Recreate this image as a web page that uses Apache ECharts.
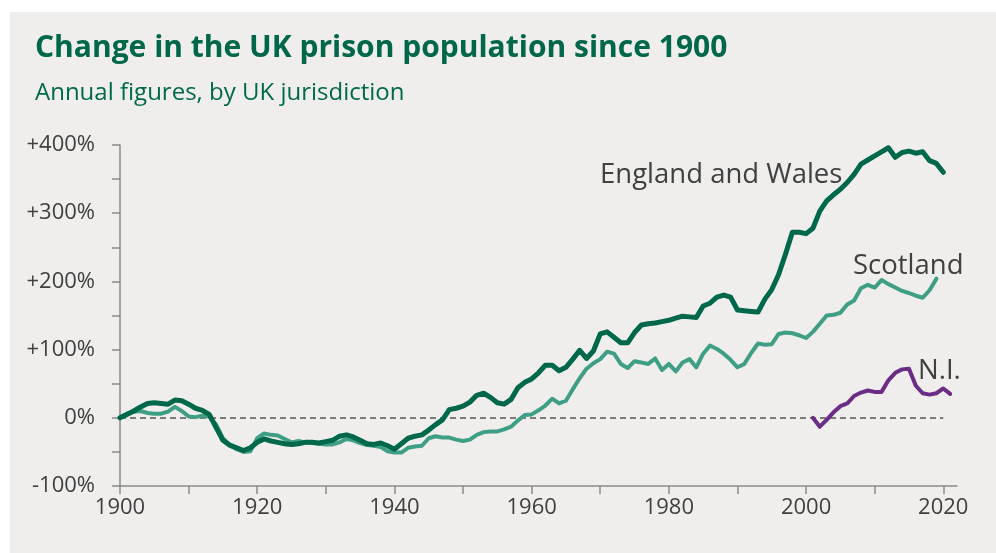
<!DOCTYPE html>
<html>
<head>
<meta charset="utf-8">
<script src="https://cdn.jsdelivr.net/npm/echarts@6/dist/echarts.min.js"></script>
<style>
  html, body { margin: 0; padding: 0; background: #ffffff; }
  #chart { width: 996px; height: 553px; }
</style>
</head>
<body>
<div id="chart"></div>
<script>
// x axis runs a little past the last data year
const firstYear = 1900;
const lastYear = 2022;

// % change since 1900, one value per year
const englandWalesStart = 1900;
const englandWales = [
  0, 5, 10, 16, 21, 22, 21, 20, 26, 25,
  20, 14, 11, 5, -14, -33, -40, -44, -48, -44,
  -36, -31, -34, -36, -38, -39, -38, -36, -36, -37,
  -35, -33, -27, -25, -28, -33, -38, -39, -37, -41,
  -46, -38, -30, -27, -25, -18, -10, -3, 12, 14,
  17, 23, 33, 36, 30, 22, 20, 27, 44, 52,
  57, 66, 77, 77, 69, 74, 86, 99, 87, 98,
  123, 126, 118, 110, 110, 125, 136, 138, 139, 141,
  143, 146, 149, 148, 147, 164, 168, 177, 180, 177,
  158, 157, 156, 155, 174, 188, 210, 240, 272, 272,
  270, 278, 303, 318, 327, 335, 345, 357, 372, 378,
  384, 390, 396, 382, 389, 391, 388, 390, 377, 373,
  360
];

const scotlandStart = 1900;
const scotland = [
  0, 6, 9, 10, 7, 6, 6, 9, 16, 10,
  2, 1, 3, 2, -10, -30, -40, -46, -50, -49,
  -30, -23, -25, -26, -31, -36, -34, -36, -37, -38,
  -39, -39, -36, -31, -33, -37, -40, -41, -43, -49,
  -51, -51, -44, -42, -41, -30, -27, -29, -29, -32,
  -34, -32, -25, -21, -20, -20, -17, -13, -4, 4,
  5, 11, 18, 28, 21, 25, 42, 58, 72, 80,
  86, 97, 94, 79, 73, 83, 81, 79, 87, 70,
  79, 68, 81, 86, 74, 94, 106, 101, 94, 85,
  74, 79, 95, 109, 107, 108, 123, 125, 124, 121,
  117, 126, 138, 150, 151, 154, 166, 172, 190, 195,
  191, 202, 196, 191, 186, 183, 179, 176, 187, 204
];

const niStart = 2001;
const northernIreland = [
  0, -13, -3, 8, 17, 21, 32, 37, 40, 38,
  38, 55, 66, 71, 72, 47, 36, 34, 36, 43,
  35
];

const yTicks = [-100, 0, 100, 200, 300, 400];

let years = [];
for (let y = firstYear; y <= lastYear; y++) {
  years.push(String(y));
}

// put a series on the full year list, empty where it has no data
function padSeries(values, start) {
  let out = years.map(() => null);
  for (let i = 0; i < values.length; i++) {
    out[start - firstYear + i] = values[i];
  }
  return out;
}

const chart = echarts.init(document.getElementById("chart"));

const font = "'Open Sans', sans-serif";
const textGrey = "#404040";
const axisGrey = "#8a8a8a";

let option = {
  animation: false,
  backgroundColor: "transparent",
  graphic: [
    {
      type: "rect",
      z: -10,
      shape: { x: 10, y: 12, width: 986, height: 541 },
      style: { fill: "#efeeec" },
    },
    {
      type: "text",
      left: 600, top: 161,
      style: { text: "England and Wales", fill: textGrey, font: "27.5px " + font },
    },
    {
      type: "text",
      left: 853, top: 252,
      style: { text: "Scotland", fill: textGrey, font: "27.5px " + font },
    },
    {
      type: "text",
      left: 918, top: 357,
      style: { text: "N.I.", fill: textGrey, font: "27.5px " + font },
    },
  ],
  title: [
    {
      text: "Change in the UK prison population since 1900",
      left: 30, top: 28,
      textStyle: { color: "#00674a", fontSize: 30, fontWeight: "bold", fontFamily: font },
    },
    {
      text: "Annual figures, by UK jurisdiction",
      left: 30, top: 76,
      textStyle: { color: "#00694a", fontSize: 24, fontWeight: "normal", fontFamily: font },
    },
  ],
  grid: { left: 120, right: 39, top: 145, bottom: 67 },
  xAxis: {
    type: "category",
    data: years,
    boundaryGap: false,
    axisLine: { onZero: false, lineStyle: { color: axisGrey, width: 1.5 } },
    axisTick: {
      length: 8,
      interval: (i) => i % 10 === 0,
      lineStyle: { color: axisGrey, width: 1.5 },
    },
    axisLabel: {
      interval: (i) => i % 20 === 0,
      margin: 11,
      color: textGrey,
      fontSize: 22,
      fontFamily: font,
    },
    splitLine: { show: false },
  },
  yAxis: {
    type: "value",
    min: -100,
    max: 400,
    interval: 50,
    axisLine: { show: true, lineStyle: { color: axisGrey, width: 1.5 } },
    axisTick: { show: true, length: 8, lineStyle: { color: axisGrey, width: 1.5 } },
    axisLabel: {
      margin: 25,
      color: textGrey,
      fontSize: 22,
      fontFamily: font,
      formatter: (v) => {
        if (yTicks.indexOf(v) === -1) return "";
        return (v > 0 ? "+" : "") + v + "%";
      },
    },
    splitLine: { show: false },
  },
  series: [
    {
      name: "Scotland",
      type: "line",
      data: padSeries(scotland, scotlandStart),
      showSymbol: false,
      connectNulls: false,
      lineStyle: { color: "#3f9f86", width: 4, cap: "round", join: "round" },
      itemStyle: { color: "#3f9f86" },
      z: 3,
    },
    {
      name: "England and Wales",
      type: "line",
      data: padSeries(englandWales, englandWalesStart),
      showSymbol: false,
      lineStyle: { color: "#00684a", width: 5, cap: "round", join: "round" },
      itemStyle: { color: "#00684a" },
      z: 4,
      markLine: {
        silent: true,
        symbol: "none",
        z: 1,
        label: { show: false },
        lineStyle: { color: "#555555", type: [6, 4], width: 1.5 },
        data: [[{ coord: ["1900", 0] }, { coord: ["2020", 0] }]],
      },
    },
    {
      name: "N.I.",
      type: "line",
      data: padSeries(northernIreland, niStart),
      showSymbol: false,
      lineStyle: { color: "#6b2c86", width: 4, cap: "round", join: "round" },
      itemStyle: { color: "#6b2c86" },
      z: 5,
    },
  ],
};

chart.setOption(option);
</script>
</body>
</html>
